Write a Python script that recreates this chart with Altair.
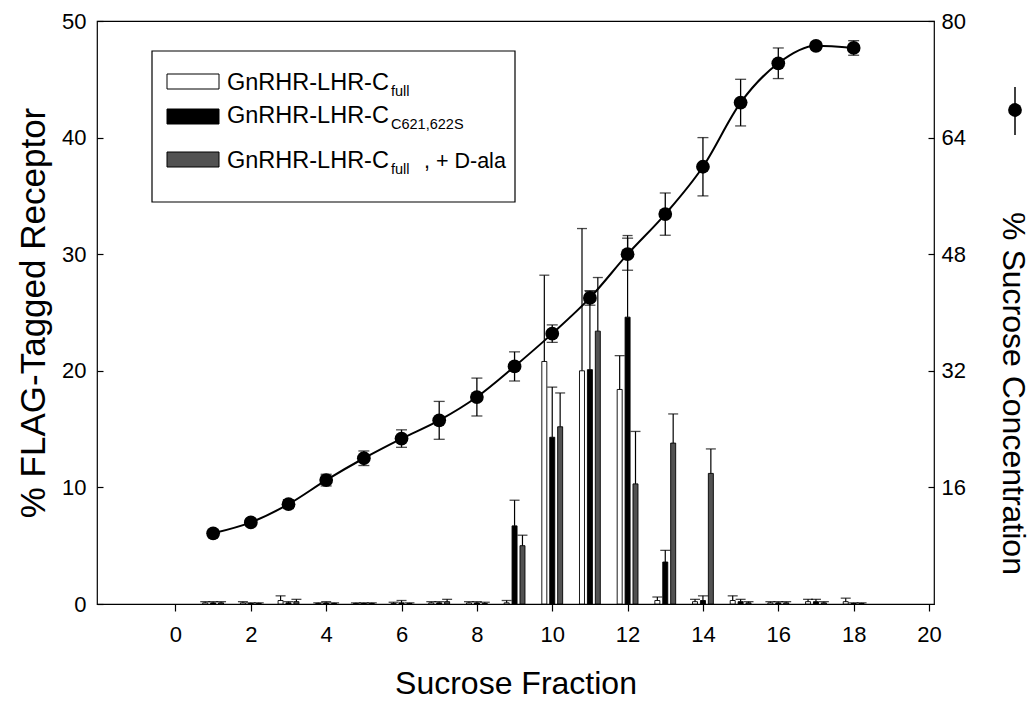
import altair as alt
import pandas as pd

FONT = "Liberation Sans"

fractions = list(range(1, 19))

# % FLAG-tagged receptor in each sucrose fraction (mean and error)
full_pct = [0.1, 0.1, 0.3, 0.05, 0.05, 0.05, 0.1, 0.1, 0.1, 20.8, 20.0, 18.4, 0.3, 0.2, 0.3, 0.1, 0.2, 0.2]
full_err = [0.1, 0.1, 0.4, 0.05, 0.05, 0.1, 0.1, 0.1, 0.2, 7.4, 12.2, 2.9, 0.3, 0.2, 0.4, 0.1, 0.2, 0.3]
mut_pct = [0.1, 0.05, 0.1, 0.1, 0.05, 0.1, 0.1, 0.1, 6.7, 14.3, 20.1, 24.6, 3.6, 0.3, 0.2, 0.1, 0.2, 0.05]
mut_err = [0.1, 0.05, 0.1, 0.1, 0.05, 0.2, 0.1, 0.1, 2.2, 4.3, 6.7, 7.0, 1.0, 0.4, 0.2, 0.1, 0.2, 0.05]
dala_pct = [0.1, 0.05, 0.2, 0.05, 0.05, 0.05, 0.2, 0.05, 5.0, 15.2, 23.4, 10.3, 13.8, 11.2, 0.1, 0.1, 0.1, 0.05]
dala_err = [0.1, 0.05, 0.2, 0.05, 0.05, 0.05, 0.2, 0.1, 0.9, 2.9, 4.6, 4.5, 2.5, 2.1, 0.1, 0.1, 0.1, 0.05]

# % sucrose concentration of each fraction (mean and error)
sucrose = [9.7, 11.2, 13.7, 17.0, 20.0, 22.7, 25.2, 28.4, 32.6, 37.1, 42.0, 48.0, 53.5, 60.0, 68.8, 74.2, 76.6, 76.3]
sucrose_err = [0.5, 0.5, 0.6, 0.8, 1.0, 1.2, 2.6, 2.6, 2.0, 1.2, 1.0, 2.2, 2.9, 4.0, 3.2, 2.1, 0.5, 1.0]

series_keys = ["full", "mut", "dala"]
series_fill = ["white", "black", "#525252"]
series_shift = {"full": -0.21, "mut": 0.0, "dala": 0.21}

rows = []
for key, vals, errs in [("full", full_pct, full_err), ("mut", mut_pct, mut_err), ("dala", dala_pct, dala_err)]:
    for f, v, e in zip(fractions, vals, errs):
        rows.append({"series": key, "fraction": f, "pos": f + series_shift[key], "value": v, "top": v + e})
bars_df = pd.DataFrame(rows)

suc_df = pd.DataFrame({
    "fraction": fractions,
    "sucrose": sucrose,
    "lo": [s - e for s, e in zip(sucrose, sucrose_err)],
    "hi": [s + e for s, e in zip(sucrose, sucrose_err)],
})
one = pd.DataFrame({"k": [0]})

x_scale = alt.Scale(domain=[-1.95, 20], nice=False, zero=False)
x_axis = alt.Axis(values=list(range(0, 21, 2)), tickSize=7, labelPadding=13,
                  title="Sucrose Fraction", titleFontSize=32, titleY=64, titleBaseline="top")
yl_scale = alt.Scale(domain=[0, 50], nice=False)
yl_axis = alt.Axis(values=[0, 10, 20, 30, 40, 50], offset=-6, domain=False, tickSize=6, labelPadding=11,
                   title="% FLAG-Tagged Receptor", titleFontSize=35, titleX=-52, titleY=291.5)
yr_scale = alt.Scale(domain=[0, 80], nice=False)
yr_axis = alt.Axis(orient="right", values=[16, 32, 48, 64, 80], offset=-6, domain=False, tickSize=6,
                   labelPadding=7, title="% Sucrose Concentration", titleFontSize=32,
                   titleAngle=90, titleX=67, titleY=372)

X = lambda f: alt.X(f, scale=x_scale, axis=x_axis)
YL = lambda f: alt.Y(f, scale=yl_scale, axis=yl_axis, stack=None)
YR = lambda f: alt.Y(f, scale=yr_scale, axis=yr_axis)

base = alt.Chart(bars_df)
bars = base.mark_bar(size=5, stroke="black", strokeWidth=0.9).encode(
    x=X("pos:Q"), y=YL("value:Q"),
    fill=alt.Fill("series:N", scale=alt.Scale(domain=series_keys, range=series_fill), legend=None),
)
bar_err = base.mark_rule(color="black", strokeWidth=1.2).encode(x=X("pos:Q"), y=YL("value:Q"), y2="top:Q")
bar_cap = base.mark_tick(orient="horizontal", size=10, thickness=1.3, color="black").encode(
    x=X("pos:Q"), y=YL("top:Q"))

# legend box with subscripted series names
leg = [alt.Chart(one).mark_rect(fill="white", stroke="black", strokeWidth=1.2).encode(
    x=alt.value(55), x2=alt.value(418), y=alt.value(30), y2=alt.value(181))]
legend_rows = [
    ("white", 53, 69, "full", ""),
    ("black", 88, 102, "C621,622S", ""),
    ("#525252", 131, 147, "full", ", + D-ala"),
]
for fill, top, base_y, sub, tail in legend_rows:
    leg.append(alt.Chart(one).mark_rect(fill=fill, stroke="black", strokeWidth=1).encode(
        x=alt.value(70), x2=alt.value(122), y=alt.value(top), y2=alt.value(top + 15)))
    leg.append(alt.Chart(one).mark_text(text="GnRHR-LHR-C", font=FONT, fontSize=23.5, align="left",
                                        baseline="alphabetic", color="black").encode(
        x=alt.value(130), y=alt.value(base_y)))
    leg.append(alt.Chart(one).mark_text(text=sub, font=FONT, fontSize=14.5, align="left",
                                        baseline="alphabetic", color="black").encode(
        x=alt.value(294), y=alt.value(base_y + 6)))
    if tail:
        leg.append(alt.Chart(one).mark_text(text=tail, font=FONT, fontSize=21.5, align="left",
                                            baseline="alphabetic", color="black").encode(
            x=alt.value(327), y=alt.value(base_y)))

left = alt.layer(bars, bar_err, bar_cap, *leg)

sbase = alt.Chart(suc_df)
line = sbase.mark_line(interpolate="monotone", color="black", strokeWidth=2).encode(
    x=X("fraction:Q"), y=YR("sucrose:Q"))
s_err = sbase.mark_rule(color="black", strokeWidth=1.3).encode(x=X("fraction:Q"), y=YR("lo:Q"), y2="hi:Q")
s_cap_lo = sbase.mark_tick(orient="horizontal", size=11, thickness=1.3, color="black").encode(
    x=X("fraction:Q"), y=YR("lo:Q"))
s_cap_hi = sbase.mark_tick(orient="horizontal", size=11, thickness=1.3, color="black").encode(
    x=X("fraction:Q"), y=YR("hi:Q"))
pts = sbase.mark_circle(size=190, color="black", opacity=1).encode(x=X("fraction:Q"), y=YR("sucrose:Q"))

# line-and-dot key beside the right axis title
key_line = alt.Chart(one).mark_rule(color="black", strokeWidth=1.5).encode(
    x=alt.value(918), y=alt.value(66), y2=alt.value(114))
key_dot = alt.Chart(one).mark_circle(size=190, color="black", opacity=1).encode(
    x=alt.value(918), y=alt.value(89))

right = alt.layer(line, s_err, s_cap_lo, s_cap_hi, pts, key_line, key_dot)

chart = alt.layer(left, right).resolve_scale(y="independent").properties(
    width=837, height=583,
    autosize=alt.AutoSizeParams(type="none"),
    padding={"left": 97, "top": 21, "right": 102, "bottom": 100},
).configure_axis(
    labelFont=FONT, titleFont=FONT, labelColor="black", titleColor="black",
    tickColor="black", domainColor="black", grid=False, titleFontWeight="normal",
    labelFontSize=22, domainWidth=1.2, tickWidth=1.2,
).configure_view(stroke="black", strokeWidth=1.2)

chart.save("out.html", embed_options={"renderer": "svg", "actions": False})
